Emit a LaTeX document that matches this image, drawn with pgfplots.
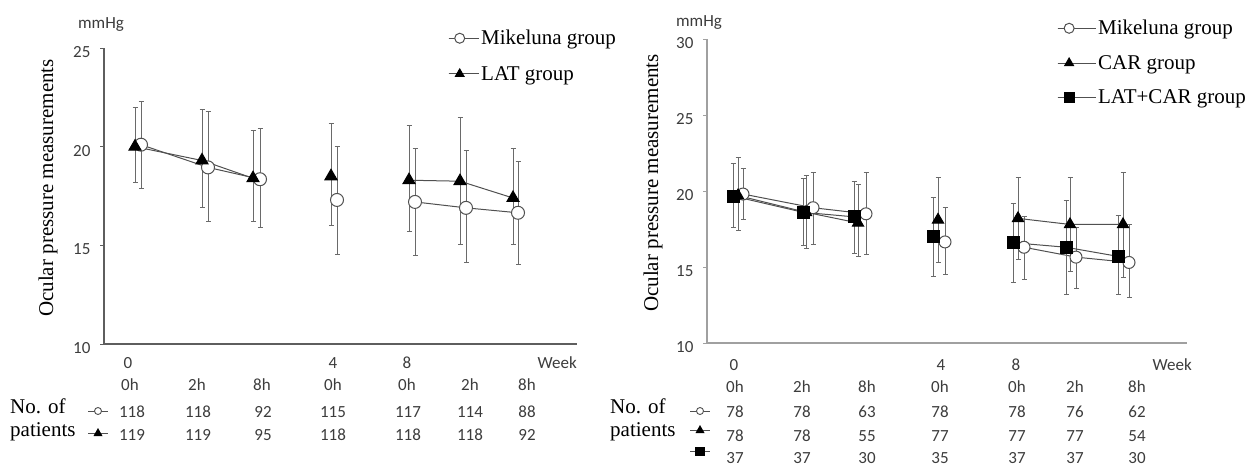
\documentclass[border=0pt]{standalone}
\usepackage{pgfplots}
\pgfplotsset{compat=1.18}
\usepackage{pgfplotstable}
\usepackage{fontspec}
\setmainfont{Liberation Serif}
\newfontfamily\calfont{Carlito}
\definecolor{txtgray}{HTML}{3C3C3C}
\definecolor{axgray}{HTML}{5E5E5E}
\definecolor{axlight}{HTML}{A0A0A0}
\definecolor{ebgray}{HTML}{6A6A6A}
\definecolor{lngray}{HTML}{505050}

% ---------- left panel (x = horizontal position, y = mean, lo/hi = error bar ends)
\pgfplotstableread{
x y lo hi
141 20.1 17.9 22.3
208 18.95 16.2 21.8
260 18.35 15.9 20.9
337 17.3 14.55 20.0
415 17.2 14.5 19.9
466 16.9 14.15 19.8
518 16.65 14.05 19.25
}\LmikeTab
\pgfplotstableread{
x y lo hi
135 20.0 18.2 22.0
202 19.3 16.9 21.9
253 18.4 16.2 20.8
331 18.5 16.0 21.2
409 18.3 15.7 21.1
460 18.25 15.05 21.5
513 17.4 15.05 19.9
}\LlatTab
% ---------- right panel
\pgfplotstableread{
x y lo hi
743 19.8 18.15 21.5
813 18.9 16.5 21.2
866 18.5 15.8 21.25
945 16.65 14.5 18.95
1024 16.3 14.2 18.35
1076 15.65 13.6 17.6
1129 15.3 13.0 17.8
}\RmikeTab
\pgfplotstableread{
x y lo hi
738 19.7 17.4 22.2
806 18.6 16.2 21.0
858 17.9 15.7 20.4
938 18.1 15.3 20.9
1018 18.2 15.5 20.9
1070 17.8 14.7 20.9
1123 17.8 14.3 21.25
}\RcarTab
\pgfplotstableread{
x y lo hi
733 19.67 17.6 21.84
803 18.6 16.4 20.85
854 18.3 15.9 20.65
933 17.0 14.35 19.55
1013 16.6 14.0 19.2
1066 16.3 13.2 19.4
1118 15.7 13.2 18.4
}\RlcTab

\pgfplotsset{
  ebars/.style={error bars/y dir=both, error bars/y explicit,
     error bars/error bar style={ebgray, line width=0.9pt},
     error bars/error mark options={ebgray, rotate=90, line width=0.9pt, mark size=2.5pt}},
  circS/.style={draw=lngray, line width=1pt, mark=*, mark size=#1,
     mark options={draw=lngray, fill=white, line width=1pt}},
  triS/.style={draw=lngray, line width=1pt, mark=triangle*, mark size=#1,
     mark options={draw=black, fill=black}},
  sqS/.style={draw=lngray, line width=1pt, mark=square*, mark size=#1,
     mark options={draw=black, fill=black}},
  panel/.style={scale only axis, clip=false,
     axis x line=bottom, axis y line=left,
     xtick=\empty, tick align=outside, major tick length=4pt,
     /pgf/number format/assume math mode=true,
     yticklabel style={font=\calfont\fontsize{17}{17}\selectfont, text=txtgray, yshift=-4pt, xshift=-6pt},
     legend cell align=left,
  },
}
\newcommand\tablab[1]{\calfont\fontsize{17}{17}\selectfont\color{txtgray}#1}

\begin{document}
\begin{tikzpicture}[x=1pt,y=-1pt]
\path[use as bounding box] (0,0) rectangle (1247,467);

% ===================== LEFT PANEL =====================
\begin{axis}[panel, at={(104pt,-344pt)}, anchor=south west,
  width=473pt, height=296pt, xmin=104, xmax=577, ymin=10, ymax=25,
  ytick={10,15,20,25},
  axis line style={-, axgray, line width=1.6pt}, ytick style={axgray, line width=1pt},
  legend image code/.code={\path (0pt,0pt) -- (30pt,0pt);
     \draw[#1, mark size=5pt, mark repeat=2, mark phase=2]
        plot coordinates {(0pt,0pt) (11pt,0pt) (22pt,0pt)};},
  legend style={at={(0.7273,1.0676)}, anchor=north west, draw=none, fill=none,
     font=\fontsize{21}{21}\selectfont, row sep=16pt, inner sep=0pt,
     nodes={inner sep=2pt}}]
  \addplot[circS=6.5pt, ebars, restrict x to domain=100:300]
    table[x=x, y=y, y error plus expr=\thisrow{hi}-\thisrow{y}, y error minus expr=\thisrow{y}-\thisrow{lo}] {\LmikeTab};
  \addlegendentry{Mikeluna group}
  \addplot[triS=7pt, ebars, restrict x to domain=100:300]
    table[x=x, y=y, y error plus expr=\thisrow{hi}-\thisrow{y}, y error minus expr=\thisrow{y}-\thisrow{lo}] {\LlatTab};
  \addlegendentry{LAT group}
  \addplot[circS=6.5pt, ebars, forget plot, restrict x to domain=300:380]
    table[x=x, y=y, y error plus expr=\thisrow{hi}-\thisrow{y}, y error minus expr=\thisrow{y}-\thisrow{lo}] {\LmikeTab};
  \addplot[circS=6.5pt, ebars, forget plot, restrict x to domain=380:600]
    table[x=x, y=y, y error plus expr=\thisrow{hi}-\thisrow{y}, y error minus expr=\thisrow{y}-\thisrow{lo}] {\LmikeTab};
  \addplot[triS=7pt, ebars, forget plot, restrict x to domain=300:380]
    table[x=x, y=y, y error plus expr=\thisrow{hi}-\thisrow{y}, y error minus expr=\thisrow{y}-\thisrow{lo}] {\LlatTab};
  \addplot[triS=7pt, ebars, forget plot, restrict x to domain=380:600]
    table[x=x, y=y, y error plus expr=\thisrow{hi}-\thisrow{y}, y error minus expr=\thisrow{y}-\thisrow{lo}] {\LlatTab};
\end{axis}

% ===================== RIGHT PANEL =====================
\begin{axis}[panel, at={(707pt,-343pt)}, anchor=south west,
  width=480pt, height=304pt, xmin=707, xmax=1187, ymin=10, ymax=30,
  ytick={10,15,20,25,30},
  axis line style={-, axlight, line width=1.6pt}, ytick style={axlight, line width=1pt},
  legend image code/.code={\path (0pt,0pt) -- (38pt,0pt);
     \draw[#1, mark size=5pt, mark repeat=2, mark phase=2]
        plot coordinates {(0pt,0pt) (11.5pt,0pt) (23pt,0pt)};},
  legend style={at={(0.729,1.069)}, anchor=north west, draw=none, fill=none,
     font=\fontsize{21}{21}\selectfont, row sep=15pt, inner sep=0pt,
     nodes={inner sep=2pt}}]
  \addplot[circS=6pt, ebars, restrict x to domain=700:900]
    table[x=x, y=y, y error plus expr=\thisrow{hi}-\thisrow{y}, y error minus expr=\thisrow{y}-\thisrow{lo}] {\RmikeTab};
  \addlegendentry{Mikeluna group}
  \addplot[triS=6.5pt, ebars, restrict x to domain=700:900]
    table[x=x, y=y, y error plus expr=\thisrow{hi}-\thisrow{y}, y error minus expr=\thisrow{y}-\thisrow{lo}] {\RcarTab};
  \addlegendentry{CAR group}
  \addplot[sqS=6pt, ebars, restrict x to domain=700:900]
    table[x=x, y=y, y error plus expr=\thisrow{hi}-\thisrow{y}, y error minus expr=\thisrow{y}-\thisrow{lo}] {\RlcTab};
  \addlegendentry{LAT+CAR group}
  \addplot[circS=6pt, ebars, forget plot, restrict x to domain=900:980]
    table[x=x, y=y, y error plus expr=\thisrow{hi}-\thisrow{y}, y error minus expr=\thisrow{y}-\thisrow{lo}] {\RmikeTab};
  \addplot[circS=6pt, ebars, forget plot, restrict x to domain=980:1200]
    table[x=x, y=y, y error plus expr=\thisrow{hi}-\thisrow{y}, y error minus expr=\thisrow{y}-\thisrow{lo}] {\RmikeTab};
  \addplot[triS=6.5pt, ebars, forget plot, restrict x to domain=900:980]
    table[x=x, y=y, y error plus expr=\thisrow{hi}-\thisrow{y}, y error minus expr=\thisrow{y}-\thisrow{lo}] {\RcarTab};
  \addplot[triS=6.5pt, ebars, forget plot, restrict x to domain=980:1200]
    table[x=x, y=y, y error plus expr=\thisrow{hi}-\thisrow{y}, y error minus expr=\thisrow{y}-\thisrow{lo}] {\RcarTab};
  \addplot[sqS=6pt, ebars, forget plot, restrict x to domain=900:980]
    table[x=x, y=y, y error plus expr=\thisrow{hi}-\thisrow{y}, y error minus expr=\thisrow{y}-\thisrow{lo}] {\RlcTab};
  \addplot[sqS=6pt, ebars, forget plot, restrict x to domain=980:1200]
    table[x=x, y=y, y error plus expr=\thisrow{hi}-\thisrow{y}, y error minus expr=\thisrow{y}-\thisrow{lo}] {\RlcTab};
\end{axis}

% ===================== TEXT: titles, labels =====================
\node[rotate=90, font=\fontsize{21}{21}\selectfont] at (48,188) {Ocular pressure measurements};
\node[rotate=90, font=\fontsize{21}{21}\selectfont] at (653,183) {Ocular pressure measurements};
\node[inner sep=0pt] at (101,25) {\tablab{mmHg}};
\node[inner sep=0pt] at (699,23) {\tablab{mmHg}};

% left x labels
\foreach \xx/\tt in {128/0, 333/4, 407/8} \node[inner sep=0pt] at (\xx,363) {\tablab{\tt}};
\node[inner sep=0pt, anchor=east] at (577,363) {\tablab{Week}};
\foreach \xx/\tt in {130/0h, 197/2h, 262/8h, 333/0h, 407/0h, 470/2h, 527/8h} \node[inner sep=0pt] at (\xx,385) {\tablab{\tt}};
\foreach \xx/\tt in {132/118, 198/118, 263/92, 333/115, 408/117, 470/114, 527/88} \node[inner sep=0pt] at (\xx,412) {\tablab{\tt}};
\foreach \xx/\tt in {132/119, 198/119, 263/95, 333/118, 408/118, 470/118, 527/92} \node[inner sep=0pt] at (\xx,435) {\tablab{\tt}};
\node[anchor=mid west, inner sep=0pt, font=\fontsize{21}{21}\selectfont] at (10,411) {No. of};
\node[anchor=mid west, inner sep=0pt, font=\fontsize{21}{21}\selectfont] at (10,434) {patients};
\draw[lngray, line width=0.9pt] (88,411) -- (108,411);
\node[circle, draw=lngray, fill=white, line width=0.9pt, inner sep=0pt, minimum size=7pt] at (98,411) {};
\draw[lngray, line width=0.9pt] (88,433) -- (108,433);
\fill[black] (98,428) -- (102.5,436) -- (93.5,436) -- cycle;

% right x labels
\foreach \xx/\tt in {734/0, 941/4, 1016/8} \node[inner sep=0pt] at (\xx,365) {\tablab{\tt}};
\node[inner sep=0pt, anchor=east] at (1192,365) {\tablab{Week}};
\foreach \xx/\tt in {735/0h, 802/2h, 867/8h, 940/0h, 1017/0h, 1075/2h, 1137/8h} \node[inner sep=0pt] at (\xx,387) {\tablab{\tt}};
\foreach \xx/\tt in {735/78, 802/78, 867/63, 940/78, 1017/78, 1075/76, 1137/62} \node[inner sep=0pt] at (\xx,412) {\tablab{\tt}};
\foreach \xx/\tt in {735/78, 802/78, 867/55, 940/77, 1017/77, 1075/77, 1137/54} \node[inner sep=0pt] at (\xx,436) {\tablab{\tt}};
\foreach \xx/\tt in {735/37, 802/37, 867/30, 940/35, 1017/37, 1075/37, 1137/30} \node[inner sep=0pt] at (\xx,458) {\tablab{\tt}};
\node[anchor=mid west, inner sep=0pt, font=\fontsize{21}{21}\selectfont] at (610,411) {No. of};
\node[anchor=mid west, inner sep=0pt, font=\fontsize{21}{21}\selectfont] at (610,434) {patients};
\draw[lngray, line width=0.9pt] (690,411) -- (710,411);
\node[circle, draw=lngray, fill=white, line width=0.9pt, inner sep=0pt, minimum size=7pt] at (700,411) {};
\draw[lngray, line width=0.9pt] (690,430) -- (710,430);
\fill[black] (700,425) -- (704.5,433) -- (695.5,433) -- cycle;
\draw[lngray, line width=0.9pt] (690,451) -- (710,451);
\fill[black] (695,446.5) rectangle (705,455.5);
\end{tikzpicture}
\end{document}
